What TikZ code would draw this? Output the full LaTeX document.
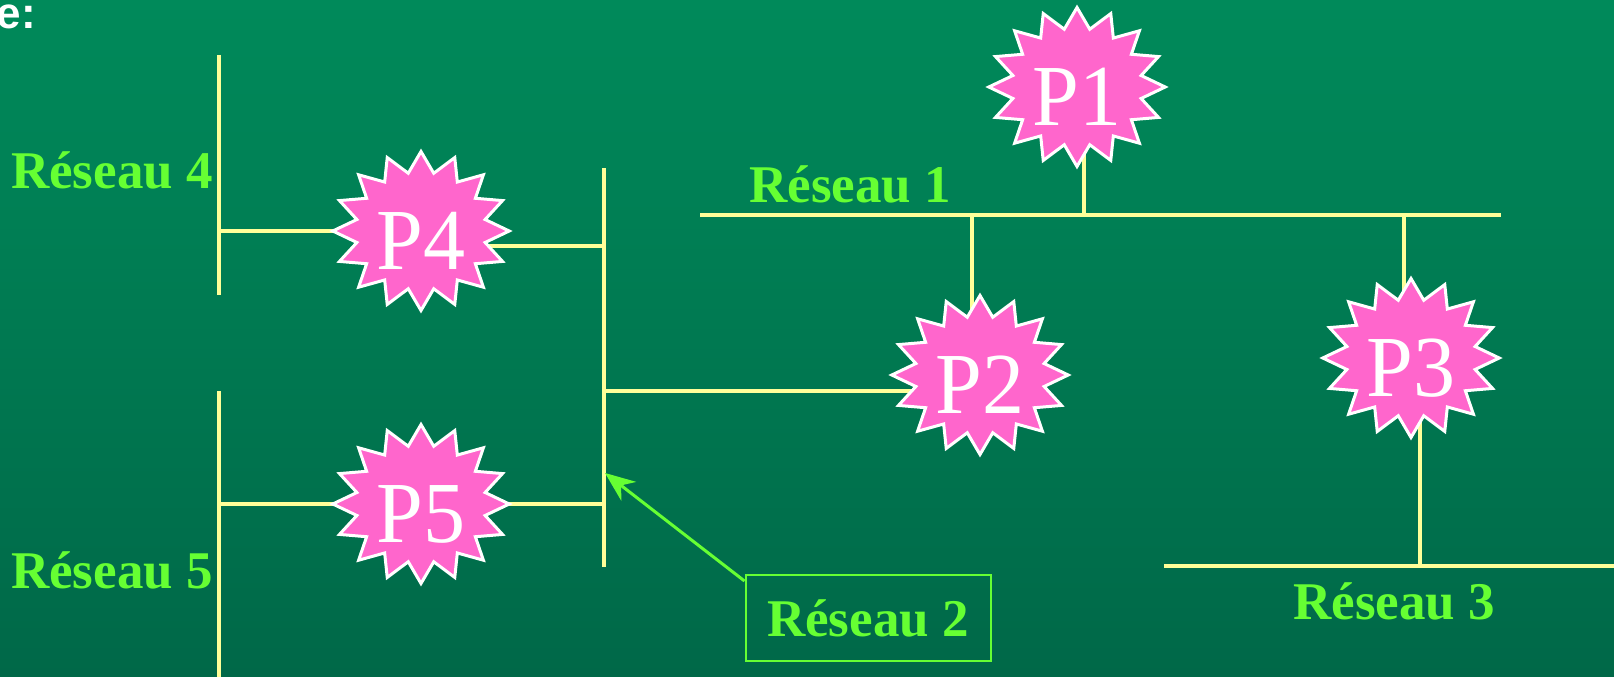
\documentclass[tikz,border=0pt]{standalone}
\usepackage{fontspec}
\setmainfont{Liberation Serif}
\newfontfamily\headfont{Liberation Sans}
\usetikzlibrary{arrows.meta,positioning,shapes.geometric,backgrounds}

\definecolor{bgtop}{RGB}{0,138,90}
\definecolor{bgbot}{RGB}{0,104,72}
\definecolor{wirey}{RGB}{255,255,153}
\definecolor{netgreen}{RGB}{102,255,51}
\definecolor{burst}{RGB}{255,102,204}

\begin{document}
\begin{tikzpicture}[x=1pt, y=-1pt,
  wire/.style={wirey, line width=4pt},
  router/.style={star, star points=16, star point ratio=1.35, minimum size=159pt, inner sep=0pt, xscale=1.11, text height=76pt, text depth=0pt, fill=burst, draw=white, line width=3pt, text=white, font=\fontsize{87}{87}\selectfont},
  netname/.style={text=netgreen, font=\bfseries\fontsize{53}{53}\selectfont, inner sep=0pt},
  callout/.style={-{Stealth[length=30pt, width=24pt]}, netgreen, line width=3pt}]
\useasboundingbox (0,0) rectangle (1614,677);
\begin{scope}[on background layer]
\shade[top color=bgtop, bottom color=bgbot] (0,0) rectangle (1614,677);
\end{scope}
\node[font=\headfont\bfseries\fontsize{44}{44}\selectfont, text=white, anchor=base east, inner sep=0pt] (head) at (36,29) {e:};

% the five routers
\node[router] (P1) at (1077,87) {\scalebox{.87}[1]{P1}};
\node[router] (P2) at (980,375) {\scalebox{.87}[1]{P2}};
\node[router] (P3) at (1411,358) {\scalebox{.87}[1]{P3}};
\node[router] (P4) at (421,231) {\scalebox{.87}[1]{P4}};
\node[router] (P5) at (421,504) {\scalebox{.87}[1]{P5}};

% network names
\node[netname, anchor=base east] (n4) at (213,188) {Réseau 4};
\node[netname, anchor=base west] (n1) at (749,202) {Réseau 1};
\node[netname, anchor=base east] (n5) at (213,588) {Réseau 5};
\node[netname, anchor=base west] (n3) at (1293,619) {Réseau 3};
\node[netname, draw=netgreen, line width=2pt, minimum width=245pt, minimum height=86pt] (n2) at (868,618) {Réseau 2};

% bus ends
\coordinate (r4a) at (219,55);   \coordinate (r4b) at (219,295);
\coordinate (r5a) at (219,391);  \coordinate (r5b) at (219,679);
\coordinate (r2a) at (604,168);  \coordinate (r2b) at (604,567);
\coordinate (r1a) at (700,215);  \coordinate (r1b) at (1501,215);
\coordinate (r3a) at (1164,566); \coordinate (r3b) at (1616,566);
\coordinate (r2tip) at (605,473);

\begin{scope}[on background layer]
\draw[wire] (r4a) -- (r4b);
\draw[wire] (r5a) -- (r5b);
\draw[wire] (r2a) -- (r2b);
\draw[wire] (r1a) -- (r1b);
\draw[wire] (r3a) -- (r3b);
% taps
\draw[wire] (P4.center) -- (P4.center -| r4a);
\draw[wire] ([yshift=-15pt]P4.center) -- ([yshift=-15pt]P4.center -| r2a);
\draw[wire] (P5.center -| r5a) -- (P5.center -| r2a);
\draw[wire] ([yshift=-16pt]P2.center) -- ([yshift=-16pt]P2.center -| r2a);
\draw[wire] ([xshift=-8pt]P2.center) -- ([xshift=-8pt]P2.center |- r1a);
\draw[wire] ([xshift=7pt]P1.center) -- ([xshift=7pt]P1.center |- r1a);
\draw[wire] ([xshift=-7pt]P3.center) -- ([xshift=-7pt]P3.center |- r1a);
\draw[wire] ([xshift=9pt]P3.center) -- ([xshift=9pt]P3.center |- r3a);
\end{scope}

\draw[callout] ([yshift=-7pt]n2.north west) -- (r2tip);
\end{tikzpicture}
\end{document}
